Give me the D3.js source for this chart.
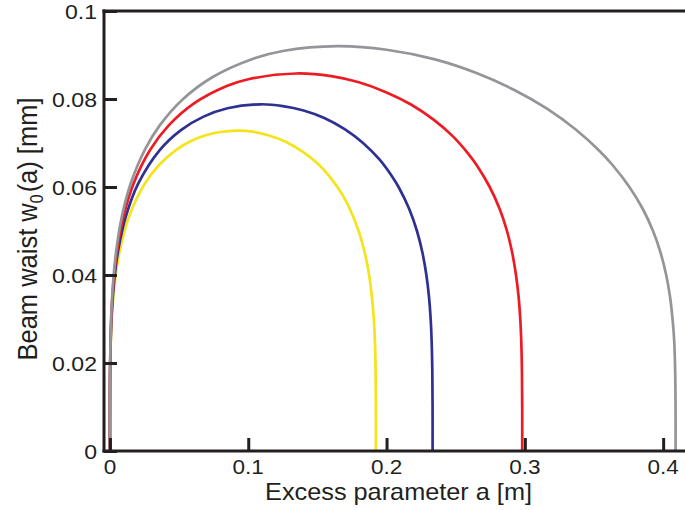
<!DOCTYPE html>
<html>
<head>
<meta charset="utf-8">
<script src="https://cdn.jsdelivr.net/npm/d3@7"></script>
<style>
  html, body { margin: 0; padding: 0; background: #ffffff; }
  svg { display: block; }
  text { font-family: "Liberation Sans", Arial, Helvetica, sans-serif; fill: #231f20; }
</style>
</head>
<body>
<svg id="chart" width="685" height="510"></svg>
<script>
// ---- Data (excess parameter a [m], beam waist w0 [mm]) ----
const aYellow = [0, 0.00003, 0.00025, 0.00137, 0.0040, 0.0072, 0.0138, 0.0253, 0.0355, 0.0477, 0.0590, 0.0699, 0.0800, 0.0918, 0.1030, 0.1150, 0.1270, 0.1390, 0.1500, 0.1600, 0.1680, 0.1735, 0.1798, 0.1843, 0.1874, 0.1894, 0.1908, 0.1916, 0.1921, 0.19228, 0.1923];
const wYellow = [0, 0.0116, 0.0200, 0.0305, 0.0396, 0.0457, 0.0533, 0.0608, 0.0650, 0.0684, 0.0705, 0.0718, 0.0725, 0.0728, 0.0726, 0.0717, 0.0703, 0.0681, 0.0654, 0.0619, 0.0583, 0.0550, 0.0500, 0.0450, 0.0400, 0.0350, 0.0300, 0.0250, 0.0180, 0.0100, 0];

const aBlue = [0, 0.00002, 0.00021, 0.00117, 0.00336, 0.0060, 0.0115, 0.0205, 0.0360, 0.0516, 0.0677, 0.0850, 0.1090, 0.1250, 0.1400, 0.1550, 0.1700, 0.1830, 0.1950, 0.2040, 0.2087, 0.2164, 0.2220, 0.2260, 0.2288, 0.2307, 0.2319, 0.2326, 0.2331, 0.23328, 0.2333];
const wBlue = [0, 0.0116, 0.0200, 0.0305, 0.0396, 0.0457, 0.0533, 0.0608, 0.0684, 0.0730, 0.0760, 0.0779, 0.0788, 0.0784, 0.0774, 0.0757, 0.0731, 0.0700, 0.0662, 0.0624, 0.0600, 0.0550, 0.0500, 0.0450, 0.0400, 0.0350, 0.0300, 0.0250, 0.0180, 0.0100, 0];

const aRed = [0, 0.00002, 0.00019, 0.0010, 0.0029, 0.0052, 0.0098, 0.0171, 0.0290, 0.0425, 0.0608, 0.0849, 0.1000, 0.1347, 0.1600, 0.1800, 0.2000, 0.2180, 0.2340, 0.2480, 0.2600, 0.2651, 0.2746, 0.2818, 0.2871, 0.2909, 0.2936, 0.2955, 0.2967, 0.2974, 0.2979, 0.29808, 0.2981];
const wRed = [0, 0.0116, 0.0200, 0.0305, 0.0396, 0.0457, 0.0533, 0.0608, 0.0684, 0.0740, 0.0790, 0.0830, 0.0845, 0.0858, 0.0852, 0.0838, 0.0815, 0.0787, 0.0753, 0.0715, 0.0672, 0.0650, 0.0600, 0.0550, 0.0500, 0.0450, 0.0400, 0.0350, 0.0300, 0.0250, 0.0180, 0.0100, 0];

const aGray = [0, 0.00002, 0.00017, 0.0009, 0.0026, 0.0046, 0.0086, 0.0150, 0.0251, 0.0360, 0.0529, 0.0743, 0.1021, 0.1250, 0.1645, 0.2000, 0.2350, 0.2650, 0.2920, 0.3160, 0.3370, 0.3540, 0.3634, 0.3756, 0.3853, 0.3927, 0.3982, 0.4022, 0.4050, 0.4068, 0.4080, 0.4087, 0.40897, 0.4090];
const wGray = [0, 0.0116, 0.0200, 0.0305, 0.0396, 0.0457, 0.0533, 0.0608, 0.0684, 0.0740, 0.0800, 0.0850, 0.0890, 0.0909, 0.0920, 0.0912, 0.0890, 0.0859, 0.0821, 0.0778, 0.0730, 0.0682, 0.0650, 0.0600, 0.0550, 0.0500, 0.0450, 0.0400, 0.0350, 0.0300, 0.0250, 0.0180, 0.0100, 0];

const xTicks = [0, 0.1, 0.2, 0.3, 0.4];
const xTickLabels = ["0", "0.1", "0.2", "0.3", "0.4"];
const yTicks = [0, 0.02, 0.04, 0.06, 0.08, 0.1];
const yTickLabels = ["0", "0.02", "0.04", "0.06", "0.08", "0.1"];
const xTitle = "Excess parameter a [m]";

const seriesList = [
  { a: aGray,   w: wGray,   color: "#949599" },
  { a: aRed,    w: wRed,    color: "#ed1c24" },
  { a: aBlue,   w: wBlue,   color: "#2e3192" },
  { a: aYellow, w: wYellow, color: "#f5e41c" }
];

// ---- Layout ----
const svg = d3.select("#chart");
const mLeft = 104, mRight = 685, mTop = 11, mBottom = 451;
const x = d3.scaleLinear().domain([-0.0043, 0.4158]).range([mLeft, mRight]);
const y = d3.scaleLinear().domain([0, 0.1]).range([mBottom, mTop]);
const axisColor = "#231f20";
const stretch = 1.1;

// ---- Curves ----
const line = d3.line()
  .x(d => x(d[0]))
  .y(d => y(d[1]))
  .curve(d3.curveCatmullRom.alpha(0.5));

svg.append("g").selectAll("path")
  .data(seriesList.slice().reverse())
  .join("path")
  .attr("d", s => line(d3.zip(s.a, s.w)))
  .attr("fill", "none")
  .attr("stroke", s => s.color)
  .attr("stroke-width", 2.7)
  .attr("stroke-linejoin", "round");

// ---- Axes ----
const xAxis = d3.axisBottom(x).tickValues(xTicks).tickSizeInner(-13).tickSizeOuter(0).tickFormat("");
const yAxis = d3.axisLeft(y).tickValues(yTicks).tickSizeInner(-13).tickSizeOuter(0).tickFormat("");

const gx = svg.append("g").attr("transform", `translate(0,${mBottom})`).call(xAxis);
const gy = svg.append("g").attr("transform", `translate(${mLeft},0)`).call(yAxis);
[gx, gy].forEach(g => {
  g.select(".domain").remove();
  g.selectAll(".tick line").attr("stroke", axisColor).attr("stroke-width", 3);
});

// frame lines: left, bottom, top
svg.append("line").attr("x1", mLeft).attr("x2", mLeft).attr("y1", mTop - 1.5).attr("y2", mBottom + 1.5)
  .attr("stroke", axisColor).attr("stroke-width", 3);
svg.append("line").attr("x1", mLeft - 1.5).attr("x2", mRight).attr("y1", mBottom).attr("y2", mBottom)
  .attr("stroke", axisColor).attr("stroke-width", 3);
svg.append("line").attr("x1", mLeft - 1.5).attr("x2", mRight).attr("y1", mTop).attr("y2", mTop)
  .attr("stroke", axisColor).attr("stroke-width", 3);

// tick labels
svg.append("g").selectAll("text")
  .data(xTicks)
  .join("text")
  .attr("transform", (d) => `translate(${x(d)},474) scale(${stretch},1)`)
  .attr("text-anchor", "middle")
  .attr("font-size", 20.5)
  .text((d, i) => xTickLabels[i]);

svg.append("g").selectAll("text")
  .data(yTicks)
  .join("text")
  .attr("transform", (d) => `translate(97,${y(d) + 7.5}) scale(${stretch},1)`)
  .attr("text-anchor", "end")
  .attr("font-size", 21)
  .text((d, i) => yTickLabels[i]);

// axis titles
svg.append("text")
  .attr("transform", `translate(398.5,499.5) scale(${stretch},1)`)
  .attr("text-anchor", "middle")
  .attr("font-size", 23)
  .text(xTitle);

const yt = svg.append("text")
  .attr("transform", `translate(37,229) scale(${stretch},1) rotate(-90)`)
  .attr("text-anchor", "middle")
  .attr("font-size", 25.5);
yt.append("tspan").text("Beam waist w");
yt.append("tspan").attr("font-size", 16).attr("dy", 5).text("0");
yt.append("tspan").attr("dy", -5).attr("dx", 2).text("(a) [mm]");
</script>
</body>
</html>
